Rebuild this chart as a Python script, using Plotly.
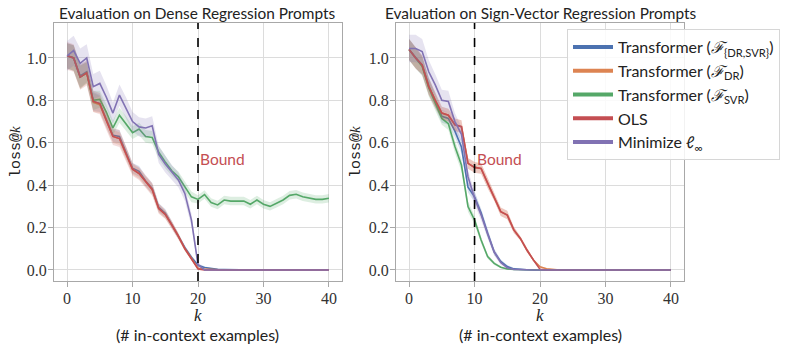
import plotly.graph_objects as go

k = list(range(41))

# ---------------- Dense Regression prompts (left) ----------------
blue_L = [1.01, 1.0, 0.915, 0.935, 0.795, 0.785, 0.71, 0.635, 0.63, 0.555, 0.48, 0.465, 0.42, 0.385, 0.295, 0.268, 0.215, 0.162, 0.105, 0.06,
          0.022, 0.012, 0.006, 0.003, 0.002, 0.001, 0.001, 0.0, 0.0, 0.0, 0.0, 0.0, 0.0, 0.0, 0.0, 0.0, 0.0, 0.0, 0.0, 0.0, 0.0]
orange_L = [1.01, 1.0, 0.91, 0.93, 0.79, 0.78, 0.705, 0.63, 0.62, 0.55, 0.475, 0.455, 0.415, 0.38, 0.29, 0.262, 0.212, 0.16, 0.10, 0.055,
            0.008, 0.004, 0.002, 0.001, 0.0, 0.0, 0.0, 0.0, 0.0, 0.0, 0.0, 0.0, 0.0, 0.0, 0.0, 0.0, 0.0, 0.0, 0.0, 0.0, 0.0]
green_L = [1.01, 1.0, 0.91, 0.93, 0.80, 0.805, 0.745, 0.67, 0.73, 0.69, 0.648, 0.665, 0.63, 0.625, 0.555, 0.51, 0.468, 0.44, 0.395, 0.345,
           0.333, 0.356, 0.318, 0.307, 0.33, 0.325, 0.325, 0.325, 0.31, 0.33, 0.31, 0.30, 0.315, 0.33, 0.352, 0.357, 0.345, 0.34, 0.333, 0.333, 0.338]
red_L = [1.01, 1.0, 0.91, 0.93, 0.795, 0.785, 0.705, 0.63, 0.62, 0.55, 0.475, 0.455, 0.415, 0.38, 0.29, 0.262, 0.212, 0.16, 0.10, 0.055,
         0.005, 0.0, 0.0, 0.0, 0.0, 0.0, 0.0, 0.0, 0.0, 0.0, 0.0, 0.0, 0.0, 0.0, 0.0, 0.0, 0.0, 0.0, 0.0, 0.0, 0.0]
purple_L = [1.01, 1.035, 0.975, 1.0, 0.865, 0.88, 0.815, 0.74, 0.825, 0.765, 0.70, 0.675, 0.67, 0.68, 0.545, 0.50, 0.46, 0.425, 0.36, 0.235,
            0.025, 0.0, 0.0, 0.0, 0.0, 0.0, 0.0, 0.0, 0.0, 0.0, 0.0, 0.0, 0.0, 0.0, 0.0, 0.0, 0.0, 0.0, 0.0, 0.0, 0.0]

# band half-widths (left)
err_blue_L = [0.06, 0.06, 0.055, 0.05, 0.045, 0.04, 0.035, 0.03, 0.03, 0.03, 0.025, 0.025, 0.025, 0.025, 0.02, 0.02, 0.015, 0.015, 0.01, 0.01,
              0.008, 0.005, 0.003, 0.002, 0.001, 0.001, 0.0, 0.0, 0.0, 0.0, 0.0, 0.0, 0.0, 0.0, 0.0, 0.0, 0.0, 0.0, 0.0, 0.0, 0.0]
err_orange_L = [0.06, 0.06, 0.055, 0.05, 0.045, 0.04, 0.035, 0.03, 0.03, 0.03, 0.025, 0.025, 0.025, 0.025, 0.02, 0.02, 0.015, 0.015, 0.01, 0.01,
                0.005, 0.003, 0.002, 0.001, 0.0, 0.0, 0.0, 0.0, 0.0, 0.0, 0.0, 0.0, 0.0, 0.0, 0.0, 0.0, 0.0, 0.0, 0.0, 0.0, 0.0]
err_green_L = [0.06, 0.06, 0.055, 0.05, 0.045, 0.04, 0.035, 0.035, 0.035, 0.035, 0.03, 0.03, 0.03, 0.03, 0.03, 0.03, 0.025, 0.025, 0.025, 0.025,
               0.02, 0.02, 0.02, 0.02, 0.02, 0.02, 0.02, 0.02, 0.02, 0.02, 0.02, 0.02, 0.02, 0.02, 0.02, 0.02, 0.02, 0.02, 0.02, 0.02, 0.02]
err_red_L = [0.065, 0.065, 0.06, 0.06, 0.05, 0.05, 0.045, 0.04, 0.04, 0.035, 0.03, 0.03, 0.03, 0.03, 0.025, 0.02, 0.02, 0.015, 0.01, 0.01,
             0.005, 0.0, 0.0, 0.0, 0.0, 0.0, 0.0, 0.0, 0.0, 0.0, 0.0, 0.0, 0.0, 0.0, 0.0, 0.0, 0.0, 0.0, 0.0, 0.0, 0.0]
err_purple_L = [0.07, 0.07, 0.07, 0.065, 0.06, 0.06, 0.055, 0.05, 0.05, 0.05, 0.045, 0.045, 0.045, 0.045, 0.04, 0.04, 0.035, 0.035, 0.035, 0.03,
                0.01, 0.0, 0.0, 0.0, 0.0, 0.0, 0.0, 0.0, 0.0, 0.0, 0.0, 0.0, 0.0, 0.0, 0.0, 0.0, 0.0, 0.0, 0.0, 0.0, 0.0]

# ---------------- Sign-Vector Regression prompts (right) ----------------
blue_R = [1.04, 1.0, 0.965, 0.87, 0.80, 0.725, 0.715, 0.655, 0.58, 0.39, 0.345, 0.27, 0.173, 0.085, 0.04, 0.016, 0.005, 0.002, 0.001, 0.0,
          0.0, 0.0, 0.0, 0.0, 0.0, 0.0, 0.0, 0.0, 0.0, 0.0, 0.0, 0.0, 0.0, 0.0, 0.0, 0.0, 0.0, 0.0, 0.0, 0.0, 0.0]
orange_R = [1.04, 1.0, 0.967, 0.865, 0.80, 0.74, 0.73, 0.685, 0.676, 0.503, 0.484, 0.479, 0.41, 0.346, 0.275, 0.259, 0.189, 0.149, 0.094, 0.047,
            0.015, 0.006, 0.002, 0.0, 0.0, 0.0, 0.0, 0.0, 0.0, 0.0, 0.0, 0.0, 0.0, 0.0, 0.0, 0.0, 0.0, 0.0, 0.0, 0.0, 0.0]
green_R = [1.04, 1.0, 0.96, 0.86, 0.79, 0.715, 0.69, 0.582, 0.495, 0.299, 0.236, 0.141, 0.063, 0.031, 0.013, 0.005, 0.002, 0.001, 0.0, 0.0,
           0.0, 0.0, 0.0, 0.0, 0.0, 0.0, 0.0, 0.0, 0.0, 0.0, 0.0, 0.0, 0.0, 0.0, 0.0, 0.0, 0.0, 0.0, 0.0, 0.0, 0.0]
red_R = [1.04, 1.0, 0.967, 0.865, 0.80, 0.74, 0.73, 0.685, 0.676, 0.503, 0.484, 0.479, 0.41, 0.346, 0.275, 0.259, 0.189, 0.149, 0.094, 0.047,
         0.003, 0.0, 0.0, 0.0, 0.0, 0.0, 0.0, 0.0, 0.0, 0.0, 0.0, 0.0, 0.0, 0.0, 0.0, 0.0, 0.0, 0.0, 0.0, 0.0, 0.0]
purple_R = [1.045, 1.045, 1.03, 0.935, 0.873, 0.80, 0.795, 0.70, 0.64, 0.44, 0.34, 0.26, 0.17, 0.085, 0.035, 0.01, 0.003, 0.001, 0.0, 0.0,
            0.0, 0.0, 0.0, 0.0, 0.0, 0.0, 0.0, 0.0, 0.0, 0.0, 0.0, 0.0, 0.0, 0.0, 0.0, 0.0, 0.0, 0.0, 0.0, 0.0, 0.0]

err_blue_R = [0.05, 0.05, 0.045, 0.04, 0.035, 0.03, 0.03, 0.03, 0.03, 0.025, 0.025, 0.02, 0.02, 0.015, 0.01, 0.008, 0.005, 0.003, 0.001, 0.0,
              0.0, 0.0, 0.0, 0.0, 0.0, 0.0, 0.0, 0.0, 0.0, 0.0, 0.0, 0.0, 0.0, 0.0, 0.0, 0.0, 0.0, 0.0, 0.0, 0.0, 0.0]
err_orange_R = [0.05, 0.05, 0.045, 0.04, 0.035, 0.03, 0.03, 0.03, 0.03, 0.025, 0.025, 0.025, 0.025, 0.02, 0.02, 0.02, 0.015, 0.01, 0.01, 0.005,
                0.004, 0.002, 0.001, 0.0, 0.0, 0.0, 0.0, 0.0, 0.0, 0.0, 0.0, 0.0, 0.0, 0.0, 0.0, 0.0, 0.0, 0.0, 0.0, 0.0, 0.0]
err_green_R = [0.05, 0.05, 0.045, 0.04, 0.035, 0.03, 0.03, 0.03, 0.03, 0.025, 0.02, 0.015, 0.01, 0.008, 0.005, 0.003, 0.001, 0.0, 0.0, 0.0,
               0.0, 0.0, 0.0, 0.0, 0.0, 0.0, 0.0, 0.0, 0.0, 0.0, 0.0, 0.0, 0.0, 0.0, 0.0, 0.0, 0.0, 0.0, 0.0, 0.0, 0.0]
err_red_R = [0.05, 0.05, 0.045, 0.04, 0.035, 0.03, 0.03, 0.03, 0.03, 0.025, 0.025, 0.025, 0.025, 0.02, 0.02, 0.02, 0.015, 0.01, 0.01, 0.005,
             0.003, 0.0, 0.0, 0.0, 0.0, 0.0, 0.0, 0.0, 0.0, 0.0, 0.0, 0.0, 0.0, 0.0, 0.0, 0.0, 0.0, 0.0, 0.0, 0.0, 0.0]
err_purple_R = [0.065, 0.065, 0.06, 0.055, 0.05, 0.05, 0.05, 0.04, 0.035, 0.03, 0.03, 0.025, 0.02, 0.015, 0.01, 0.005, 0.002, 0.0, 0.0, 0.0,
                0.0, 0.0, 0.0, 0.0, 0.0, 0.0, 0.0, 0.0, 0.0, 0.0, 0.0, 0.0, 0.0, 0.0, 0.0, 0.0, 0.0, 0.0, 0.0, 0.0, 0.0]

names = [
    "Transformer (<i>ℱ</i><sub>{DR,SVR}</sub>)",
    "Transformer (<i>ℱ</i><sub>DR</sub>)",
    "Transformer (<i>ℱ</i><sub>SVR</sub>)",
    "OLS",
    "Minimize <i>ℓ</i><sub>∞</sub>",
]
colors = ["#4C72B0", "#DD8452", "#55A868", "#C44E52", "#8172B3"]
bands = ["rgba(76,114,176,0.2)", "rgba(221,132,82,0.2)", "rgba(85,168,104,0.2)", "rgba(196,78,82,0.2)", "rgba(129,114,179,0.2)"]

series_L = [(blue_L, err_blue_L), (orange_L, err_orange_L), (green_L, err_green_L), (red_L, err_red_L), (purple_L, err_purple_L)]
series_R = [(blue_R, err_blue_R), (orange_R, err_orange_R), (green_R, err_green_R), (red_R, err_red_R), (purple_R, err_purple_R)]

bound_L = 20
bound_R = 10

SANS = "Lato"
SERIF = "Liberation Serif"
MONO = "Liberation Mono"

fig = go.Figure()

for series, xa, ya in [(series_L, "x", "y"), (series_R, "x2", "y2")]:
    for i, (vals, err) in enumerate(series):
        lo = [v - e for v, e in zip(vals, err)]
        hi = [v + e for v, e in zip(vals, err)]
        fig.add_trace(go.Scatter(x=k, y=lo, mode="lines", line=dict(width=0), showlegend=False,
                                 hoverinfo="skip", xaxis=xa, yaxis=ya))
        fig.add_trace(go.Scatter(x=k, y=hi, mode="lines", line=dict(width=0), fill="tonexty",
                                 fillcolor=bands[i], showlegend=False, hoverinfo="skip", xaxis=xa, yaxis=ya))
        fig.add_trace(go.Scatter(x=k, y=vals, mode="lines", line=dict(color=colors[i], width=1.6),
                                 showlegend=False, xaxis=xa, yaxis=ya))

# legend entries (thicker lines like the reference legend)
for i in range(5):
    fig.add_trace(go.Scatter(x=[None], y=[None], mode="lines", name=names[i],
                             line=dict(color=colors[i], width=4), xaxis="x2", yaxis="y2"))

W, H = 789, 350
def px_x(p):
    return p / W
def px_y(p):
    return 1 - p / H

FRAME = "#a8a8a8"
axis_common = dict(
    range=[-2, 42], tickvals=[0, 10, 20, 30, 40], showgrid=True, gridcolor="#dcdcdc", gridwidth=1.3,
    showline=True, linecolor=FRAME, linewidth=1.2, mirror=True, ticks="outside", ticklen=5,
    tickcolor=FRAME, tickfont=dict(family=SERIF, size=16, color="#333333"), zeroline=False,
    ticklabelstandoff=-2,
)
yaxis_common = dict(
    range=[-0.052, 1.165], tickvals=[0.0, 0.2, 0.4, 0.6, 0.8, 1.0], tickformat=".1f", showgrid=True,
    gridcolor="#dcdcdc", gridwidth=1.3, showline=True, linecolor=FRAME, linewidth=1.2, mirror=True,
    ticks="outside", ticklen=5, tickcolor=FRAME, tickfont=dict(family=SERIF, size=16, color="#333333"),
    zeroline=False, ticklabelstandoff=-2,
)

xd1 = [px_x(54), px_x(342)]
xd2 = [px_x(396), px_x(684)]
yd = [px_y(281), px_y(23)]

fig.update_layout(
    width=W, height=H, margin=dict(l=0, r=0, t=0, b=0),
    paper_bgcolor="white", plot_bgcolor="white",
    xaxis=dict(domain=xd1, anchor="y", **axis_common),
    yaxis=dict(domain=yd, anchor="x", **yaxis_common),
    xaxis2=dict(domain=xd2, anchor="y2", **axis_common),
    yaxis2=dict(domain=yd, anchor="x2", **yaxis_common),
    showlegend=True,
    legend=dict(x=px_x(567), y=px_y(29), xanchor="left", yanchor="top", traceorder="normal",
                bgcolor="rgba(255,255,255,0.85)", bordercolor="#d6d6d6", borderwidth=1,
                font=dict(family=SANS, size=16, color="#222222"), tracegroupgap=0,
                itemwidth=40),
)

# bound lines
fig.add_shape(type="line", xref="x", yref="paper", x0=bound_L, x1=bound_L, y0=yd[0], y1=yd[1],
              line=dict(color="black", width=1.6, dash="dash"))
fig.add_shape(type="line", xref="x2", yref="paper", x0=bound_R, x1=bound_R, y0=yd[0], y1=yd[1],
              line=dict(color="black", width=1.6, dash="dash"))
fig.add_annotation(x=bound_L, y=0.525, xref="x", yref="y", text="Bound", showarrow=False, xanchor="left",
                   xshift=0, font=dict(family=SANS, size=15.5, color="#C44E52"))
fig.add_annotation(x=bound_R, y=0.525, xref="x2", yref="y2", text="Bound", showarrow=False, xanchor="left",
                   xshift=0, font=dict(family=SANS, size=15.5, color="#C44E52"))

# titles
titles = ["Evaluation on Dense Regression Prompts", "Evaluation on Sign-Vector Regression Prompts"]
for dom, t in zip([xd1, xd2], titles):
    fig.add_annotation(x=(dom[0] + dom[1]) / 2, y=px_y(13), xref="paper", yref="paper", text=t,
                       showarrow=False, xanchor="center", yanchor="middle",
                       font=dict(family=SANS, size=15.4, color="#222222"))
    fig.add_annotation(x=(dom[0] + dom[1]) / 2, y=px_y(315), xref="paper", yref="paper",
                       text="<i>k</i>", showarrow=False, xanchor="center", yanchor="middle",
                       font=dict(family=SERIF, size=17, color="#222222"))
    fig.add_annotation(x=(dom[0] + dom[1]) / 2, y=px_y(334), xref="paper", yref="paper",
                       text="(# in-context examples)", showarrow=False, xanchor="center", yanchor="middle",
                       font=dict(family=SANS, size=16, color="#222222"))

for xp in [16, 356]:
    fig.add_annotation(x=px_x(xp), y=px_y(152), xref="paper", yref="paper",
                       text="loss@<span style=\"font-family:Liberation Serif;font-style:italic\">k</span>",
                       showarrow=False, textangle=-90, xanchor="center", yanchor="middle",
                       font=dict(family=MONO, size=15, color="#222222"))

# remove the default 8px page margin so the figure fills the 789x350 window exactly
fig.write_html("out.html", config={"displayModeBar": False},
               post_script="document.body.style.margin='0';document.body.style.padding='0';")
